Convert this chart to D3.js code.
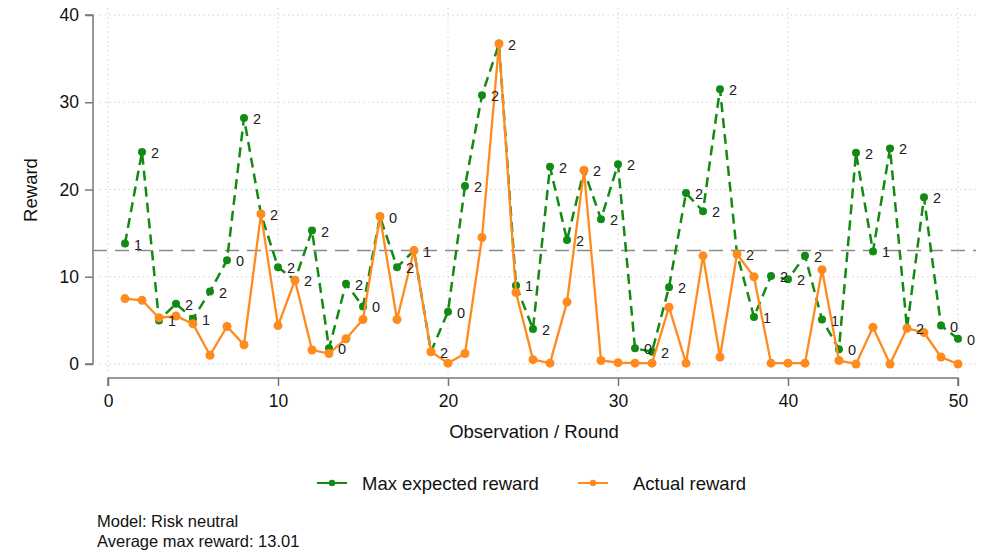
<!DOCTYPE html>
<html>
<head>
<meta charset="utf-8">
<script src="https://cdn.jsdelivr.net/npm/d3@7"></script>
<style>
  html, body { margin: 0; padding: 0; background: #fff; }
  svg { display: block; font-family: "Liberation Sans", Arial, Helvetica, sans-serif; }
</style>
</head>
<body>
<svg id="chart" width="987" height="554"></svg>
<script>
// Observation / round numbers
const rounds = [1,2,3,4,5,6,7,8,9,10,11,12,13,14,15,16,17,18,19,20,
                21,22,23,24,25,26,27,28,29,30,31,32,33,34,35,36,37,38,39,40,
                41,42,43,44,45,46,47,48,49,50];

// Max expected reward per round
const maxExpected = [13.8, 24.3, 5.0, 6.9, 5.2, 8.3, 11.9, 28.2, 17.2, 11.1,
                     9.6, 15.3, 1.8, 9.2, 6.6, 16.9, 11.1, 13.0, 1.4, 6.0,
                     20.4, 30.8, 36.7, 9.0, 4.0, 22.6, 14.2, 22.2, 16.6, 22.9,
                     1.8, 1.4, 8.8, 19.6, 17.5, 31.5, 12.6, 5.4, 10.1, 9.7,
                     12.4, 5.1, 1.7, 24.2, 12.9, 24.7, 4.1, 19.1, 4.4, 2.9];

// Actual reward per round
const actual = [7.5, 7.3, 5.3, 5.5, 4.6, 1.0, 4.3, 2.2, 17.2, 4.4,
                9.6, 1.6, 1.2, 2.9, 5.1, 16.9, 5.1, 13.0, 1.4, 0.1,
                1.2, 14.5, 36.7, 8.2, 0.5, 0.1, 7.1, 22.2, 0.4, 0.15,
                0.1, 0.1, 6.5, 0.1, 12.4, 0.8, 12.6, 10.0, 0.1, 0.1,
                0.1, 10.8, 0.4, 0.0, 4.2, 0.0, 4.1, 3.6, 0.8, 0.0];

// Option chosen as the max-expected option in each round
const bestOption = [1,2,1,2,1,2,0,2,2,2, 2,2,0,2,0,0,2,1,2,0,
                    2,2,2,1,2,2,2,2,2,2, 0,2,2,2,2,2,2,1,2,2,
                    2,1,0,2,1,2,2,2,0,0];

const averageMax = 13.01;
const xTicks = [0, 10, 20, 30, 40, 50];
const yTicks = [0, 10, 20, 30, 40];
const legendLabels = ["Max expected reward", "Actual reward"];
const notes = ["Model: Risk neutral", "Average max reward: " + averageMax.toFixed(2)];

const green = "#138a13";
const orange = "#ff8a1e";

const svg = d3.select("#chart");

const x = d3.scaleLinear().domain([0, 50]).range([108, 958]);
const y = d3.scaleLinear().domain([0, 40]).range([364, 15]);

// Grid
const grid = svg.append("g").attr("stroke", "#c8c8c8").attr("stroke-width", 1)
  .attr("stroke-dasharray", "1.2,3.5").attr("fill", "none");
grid.selectAll("line.h").data(yTicks).join("line").attr("class", "h")
  .attr("x1", 100).attr("x2", 976)
  .attr("y1", d => y(d)).attr("y2", d => y(d));
grid.selectAll("line.v").data(xTicks).join("line").attr("class", "v")
  .attr("y1", 8).attr("y2", 372)
  .attr("x1", d => x(d)).attr("x2", d => x(d));

// Y axis
const yAxis = d3.axisLeft(y).tickValues(yTicks).tickSize(8).tickPadding(6);
const gy = svg.append("g").attr("transform", "translate(93,0)").call(yAxis);
gy.select(".domain").attr("stroke", "#777").attr("stroke-width", 1.5).attr("d", `M-8,${y(40)}H0V${y(0)}H-8`);
gy.selectAll(".tick line").attr("stroke", "#777").attr("stroke-width", 1.5);
gy.selectAll(".tick text").attr("font-size", 17.5).attr("fill", "#111")
  .attr("font-family", "Liberation Sans, Arial, sans-serif");

// X axis
const xAxis = d3.axisBottom(x).tickValues(xTicks).tickSize(8).tickPadding(9);
const gx = svg.append("g").attr("transform", "translate(0,378)").call(xAxis);
gx.select(".domain").attr("stroke", "#777").attr("stroke-width", 1.5).attr("d", `M${x(0)},8V0H${x(50)}V8`);
gx.selectAll(".tick line").attr("stroke", "#777").attr("stroke-width", 1.5);
gx.selectAll(".tick text").attr("font-size", 17.5).attr("fill", "#111")
  .attr("font-family", "Liberation Sans, Arial, sans-serif");

// Axis titles
svg.append("text").attr("x", 534).attr("y", 438).attr("text-anchor", "middle")
  .attr("font-size", 18.5).attr("fill", "#111").text("Observation / Round");
svg.append("text").attr("transform", "translate(37,190) rotate(-90)").attr("text-anchor", "middle")
  .attr("font-size", 18.5).attr("fill", "#111").text("Reward");

// Average max reward reference line
svg.append("line").attr("x1", 93).attr("x2", 976)
  .attr("y1", y(averageMax)).attr("y2", y(averageMax))
  .attr("stroke", "#8c8c8c").attr("stroke-width", 1.6).attr("stroke-dasharray", "14,8");

const line = d3.line().x(d => x(d[0])).y(d => y(d[1]));
const greenPts = rounds.map((r, i) => [r, maxExpected[i]]);
const orangePts = rounds.map((r, i) => [r, actual[i]]);

// Max expected reward series
svg.append("path").datum(greenPts).attr("d", line).attr("fill", "none")
  .attr("stroke", green).attr("stroke-width", 2.5).attr("stroke-dasharray", "10,6");
svg.append("g").selectAll("circle").data(greenPts).join("circle")
  .attr("cx", d => x(d[0])).attr("cy", d => y(d[1])).attr("r", 4).attr("fill", green);

// Actual reward series
svg.append("path").datum(orangePts).attr("d", line).attr("fill", "none")
  .attr("stroke", orange).attr("stroke-width", 2.3);
svg.append("g").selectAll("circle").data(orangePts).join("circle")
  .attr("cx", d => x(d[0])).attr("cy", d => y(d[1])).attr("r", 4.5).attr("fill", orange);

// Option labels beside the max expected markers
svg.append("g").selectAll("text").data(greenPts).join("text")
  .attr("x", d => x(d[0]) + 9).attr("y", d => y(d[1]) + 6)
  .attr("font-size", 14.5).attr("fill", "#222")
  .text((d, i) => bestOption[i]);

// Legend
const legend = svg.append("g");
const legendItems = [
  { label: legendLabels[0], color: green, x0: 317, tx: 362 },
  { label: legendLabels[1], color: orange, x0: 578, tx: 633 }
];
legendItems.forEach(it => {
  legend.append("line").attr("x1", it.x0).attr("x2", it.x0 + 30)
    .attr("y1", 483).attr("y2", 483).attr("stroke", it.color).attr("stroke-width", 2);
  legend.append("circle").attr("cx", it.x0 + 15).attr("cy", 483).attr("r", 3.2).attr("fill", it.color);
  legend.append("text").attr("x", it.tx).attr("y", 489.5).attr("font-size", 18.5)
    .attr("fill", "#111").text(it.label);
});

// Notes
svg.append("g").selectAll("text").data(notes).join("text")
  .attr("x", 97).attr("y", (d, i) => 527 + i * 20)
  .attr("font-size", 16.5).attr("fill", "#111").text(d => d);
</script>
</body>
</html>
